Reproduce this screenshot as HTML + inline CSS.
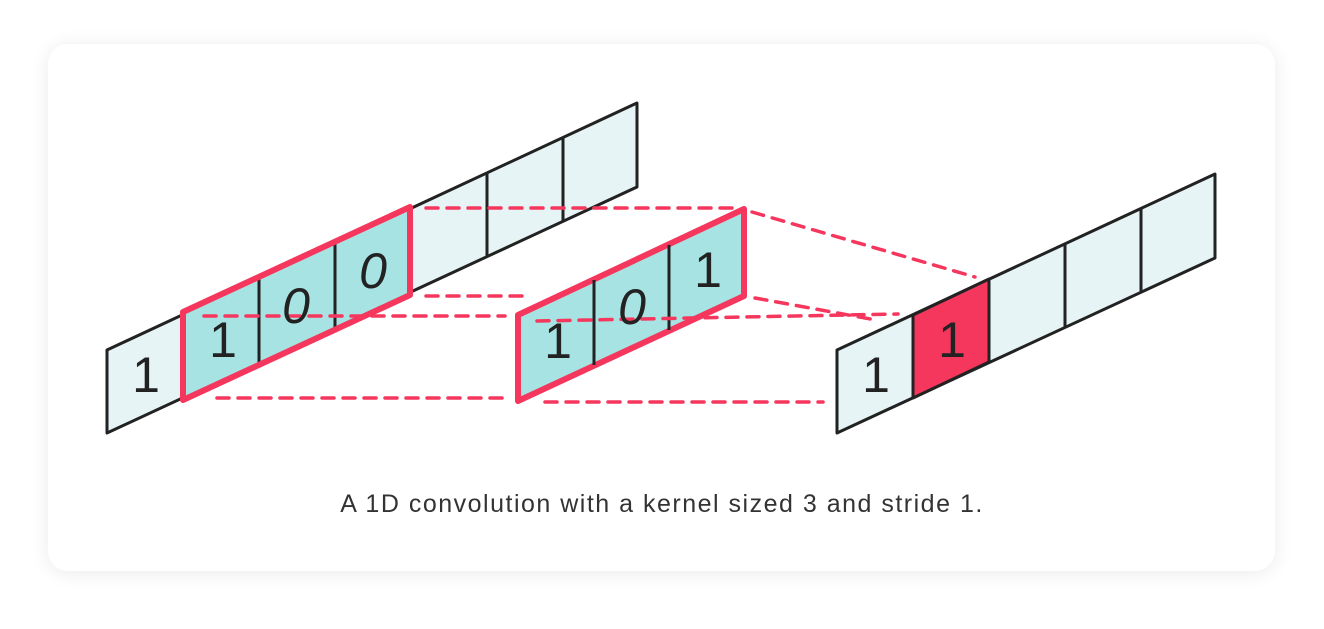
<!DOCTYPE html>
<html><head><meta charset="utf-8"><style>
body{margin:0;width:1324px;height:624px;background:#fff;overflow:hidden;font-family:"Liberation Sans",sans-serif}
</style></head><body>
<svg width="1324" height="624" viewBox="0 0 1324 624" xmlns="http://www.w3.org/2000/svg">
<defs><filter id="sh" x="-5%" y="-10%" width="110%" height="120%"><feGaussianBlur stdDeviation="10"/></filter></defs>
<rect x="48" y="46" width="1227" height="527" rx="20" fill="#000" opacity="0.08" filter="url(#sh)"/>
<rect x="48" y="44" width="1227" height="527" rx="20" fill="#fff"/>
<g stroke="#222" stroke-width="3" stroke-linejoin="round">
<polygon points="107,350 637,103 637,187 107,433" fill="#e6f4f5"/>
<line x1="183" y1="315" x2="183" y2="398"/><line x1="259" y1="279" x2="259" y2="363"/><line x1="335" y1="244" x2="335" y2="327"/><line x1="411" y1="208" x2="411" y2="292"/><line x1="487" y1="173" x2="487" y2="256"/><line x1="563" y1="138" x2="563" y2="221"/>
<polygon points="183,312 410,207 410,295 183,400" fill="#a8e3e3" stroke="none"/>
<line x1="259" y1="279" x2="259" y2="363"/><line x1="335" y1="244" x2="335" y2="327"/>
<polygon points="837,350 1215,174 1215,258 837,433" fill="#e6f4f5"/>
<polygon points="913,315 989,279 989,362 913,398" fill="#f5375e"/>
<line x1="913" y1="315" x2="913" y2="398"/><line x1="989" y1="279" x2="989" y2="362"/><line x1="1065" y1="244" x2="1065" y2="327"/><line x1="1141" y1="209" x2="1141" y2="292"/>
</g>
<polygon points="183,312 410,207 410,295 183,400" fill="none" stroke="#f5375e" stroke-width="6" stroke-linejoin="round"/>
<g stroke="#f5375e" stroke-width="3.5" stroke-dasharray="12,9" stroke-linecap="round" fill="none">
<line x1="426" y1="208" x2="740" y2="208"/>
<line x1="752" y1="212" x2="975" y2="277"/>
<line x1="426" y1="296" x2="524" y2="296"/>
<line x1="204" y1="316" x2="505" y2="316"/>
<line x1="217" y1="398" x2="503" y2="398"/>
<line x1="545" y1="402" x2="823" y2="402"/>
<line x1="755" y1="298" x2="876" y2="320"/>
</g>
<polygon points="518,315 744,209 744,296 518,401" fill="#a8e3e3" stroke="#f5375e" stroke-width="6" stroke-linejoin="round"/>
<g stroke="#222" stroke-width="3"><line x1="594" y1="280" x2="594" y2="365"/><line x1="669" y1="245" x2="669" y2="330"/></g>
<g stroke="#f5375e" stroke-width="3.5" stroke-dasharray="12,9" stroke-linecap="round" fill="none">
<line x1="537" y1="321" x2="898" y2="314"/>
</g>
<g font-family="Liberation Sans,sans-serif" font-size="50" fill="#222" text-anchor="middle">
<text x="146" y="392">1</text><text x="223" y="357">1</text><text x="558" y="358">1</text><text x="708" y="287">1</text><text x="876" y="392">1</text><text x="952" y="357">1</text>
<g font-style="italic"><text x="296" y="323">0</text><text x="373" y="288">0</text><text x="632" y="324">0</text></g>
</g>
<text x="662" y="512" text-anchor="middle" font-size="25" letter-spacing="1.5" fill="#333" font-family="Liberation Sans,sans-serif">A 1D convolution with a kernel sized 3 and stride 1.</text>
</svg>
</body></html>
